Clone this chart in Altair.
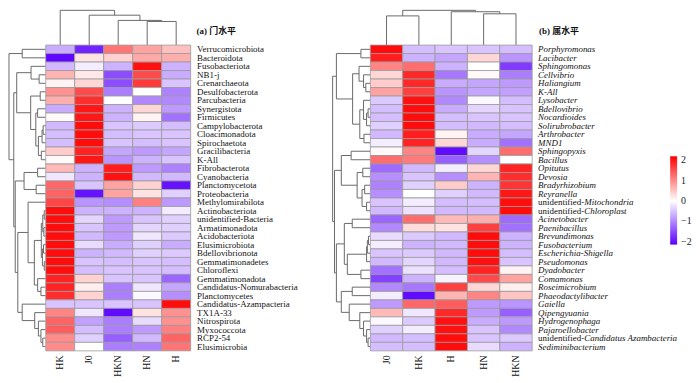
import altair as alt
import pandas as pd

# ---------------- data ----------------
phylum_cols = ["HK", "J0", "HKN", "HN", "H"]
phylum_rows = [
    "Verrucomicrobiota", "Bacteroidota", "Fusobacteriota", "NB1-j", "Crenarchaeota",
    "Desulfobacterota", "Parcubacteria", "Synergistota", "Firmicutes", "Campylobacterota",
    "Cloacimonadota", "Spirochaetota", "Gracilibacteria", "K-All", "Fibrobacterota",
    "Cyanobacteria", "Planctomycetota", "Proteobacteria", "Methylomirabilota", "Actinobacteriota",
    "unidentified-Bacteria", "Armatimonadota", "Acidobacteriota", "Elusimicrobiota", "Bdellovibrionota",
    "Gemmatimonadetes", "Chloroflexi", "Gemmatimonadota", "Candidatus-Nomurabacteria", "Planctomycetes",
    "Candidatus-Azampacteria", "TX1A-33", "Nitrospirota", "Myxococcota", "RCP2-54", "Elusimicrobia",
]
phylum_z = [
    [-0.7, -1.85, 1.2, 0.8, 0.55],
    [-2.1, 0.25, 0.4, 0.75, 0.7],
    [-0.6, -0.15, -0.65, 2.05, -0.65],
    [0.65, 0.2, -1.5, 1.55, -0.7],
    [0.1, 0.35, -1.5, 1.7, -0.5],
    [0.95, 1.55, -1.1, 0.0, -1.05],
    [0.7, 1.8, 0.0, -1.0, -1.0],
    [-0.7, 2.0, -0.65, 0.35, -0.85],
    [0.05, 2.0, -0.65, 0.1, -1.2],
    [-0.6, 2.1, -0.5, -0.45, -0.55],
    [-0.55, 2.1, -0.55, -0.5, -0.5],
    [-0.55, 2.1, -0.5, -0.55, -0.5],
    [0.45, 1.9, -0.75, -0.85, -0.75],
    [0.05, 2.0, -0.9, -0.65, -0.5],
    [0.6, -0.65, 1.95, -0.85, -1.05],
    [-0.2, -0.65, 2.05, -0.6, -0.6],
    [1.3, -0.5, 0.8, 0.4, -2.0],
    [1.35, -2.0, 0.8, 0.25, -0.4],
    [1.6, -0.9, -0.95, 1.1, -0.85],
    [2.1, -0.65, -0.65, -0.65, -0.15],
    [2.1, -0.35, -0.85, -0.5, -0.4],
    [2.1, -0.5, -0.85, -0.35, -0.4],
    [2.1, -0.6, -0.85, -0.2, -0.45],
    [2.1, -0.3, -0.7, -0.4, -0.7],
    [2.1, -0.65, -0.6, -0.4, -0.45],
    [2.1, -0.5, -0.55, -0.5, -0.55],
    [2.1, -0.55, -0.5, -0.5, -0.55],
    [1.9, 0.4, -0.5, -0.5, -1.3],
    [1.9, 0.15, -1.1, -0.2, -0.75],
    [1.8, 0.4, -1.1, -0.05, -0.95],
    [-0.5, -0.5, -0.5, -0.5, 2.1],
    [1.05, -0.2, -2.05, 0.25, 0.95],
    [1.35, -0.8, -1.1, -0.3, 0.95],
    [1.4, -0.55, -1.1, -0.85, 1.1],
    [1.0, -0.4, -1.35, -0.6, 1.35],
    [1.0, 0.0, -1.1, -1.05, 1.2],
]

genus_cols = ["J0", "HK", "H", "HN", "HKN"]
genus_rows = [
    "Porphyromonas", "Lacibacter", "Sphingomonas", "Cellvibrio", "Haliangium",
    "K-All", "Lysobacter", "Bdellovibrio", "Nocardioides", "Solirubrobacter",
    "Arthrobacter", "MND1", "Sphingopyxis", "Bacillus", "Opitutus",
    "Devosia", "Bradyrhizobium", "Reyranella", "unidentified-Mitochondria", "unidentified-Chloroplast",
    "Acinetobacter", "Paenibacillus", "Brevundimonas", "Fusobacterium", "Escherichia-Shigella",
    "Pseudomonas", "Dyadobacter", "Comamonas", "Roseimicrobium", "Phaeodactylibacter",
    "Gaiella", "Qipengyuania", "Hydrogenophaga", "Pajaroellobacter",
    "unidentified-Candidatus Azambacteria", "Sediminibacterium",
]
genus_z = [
    [2.1, -0.55, -0.5, -0.5, -0.55],
    [1.95, -0.65, -0.75, 0.35, -0.9],
    [1.05, 1.25, -0.65, 0.0, -1.65],
    [0.35, 1.85, -1.15, 0.05, -1.1],
    [0.45, 1.85, -0.7, -0.75, -0.85],
    [0.8, 1.65, -0.9, -0.75, -0.8],
    [-0.45, 2.05, -1.0, -0.05, -0.55],
    [-0.55, 2.1, -0.7, -0.35, -0.5],
    [-0.55, 2.1, -0.55, -0.5, -0.5],
    [-0.4, 2.1, -0.55, -0.6, -0.55],
    [-0.6, 1.95, 0.1, -0.7, -0.75],
    [-0.15, 1.9, 0.35, -0.7, -1.2],
    [0.05, 1.05, -2.05, -0.35, 1.25],
    [1.25, 1.15, -1.35, -0.95, 0.0],
    [-1.25, -0.6, -0.15, 0.35, 1.9],
    [-0.95, -0.5, -0.95, 0.65, 1.8],
    [-1.05, -0.4, 0.45, -0.65, 1.75],
    [-0.95, 0.0, -0.4, -0.6, 2.0],
    [-0.5, -0.15, -0.55, -0.55, 2.1],
    [-0.6, -0.25, -0.6, -0.6, 2.1],
    [-1.3, 1.25, 0.6, 0.7, -1.25],
    [-1.0, 0.3, 0.25, 1.65, -1.2],
    [-0.3, -0.45, -0.6, 2.1, -0.65],
    [-0.15, -0.65, -0.6, 2.1, -0.65],
    [-0.5, -0.45, -0.6, 2.1, -0.55],
    [-0.6, -0.35, -0.6, 2.05, -0.5],
    [-1.2, -0.25, -0.55, 1.9, 0.1],
    [-1.6, -0.65, -0.1, 1.55, 0.8],
    [-1.0, -1.15, 1.65, 0.35, 0.15],
    [-0.15, -2.05, 0.65, 1.05, 0.5],
    [-0.85, 1.3, 1.4, -0.85, -0.9],
    [0.6, -0.2, 1.85, -0.85, -1.35],
    [-0.05, -0.45, 2.05, -0.7, -0.85],
    [-0.4, -0.15, 2.05, -0.5, -1.0],
    [-0.6, -0.55, 2.1, -0.5, -0.45],
    [-0.55, -0.55, 2.1, -0.3, -0.65],
]

# dendrograms: (left, right, merge height); integers are leaf positions
phylum_col_tree = (0, (1, (2, (3, 4, 0.68), 0.71), 0.86), 1.0)
genus_col_tree = ((0, 1, 0.84), (2, (3, 4, 0.90), 0.96), 1.0)

phylum_row_tree = (
    (0, 1, 0.64),
    (
        ((2, (3, 4, 0.18), 0.40),
         ((5, 6, 0.15),
          ((7, 8, 0.22), (((9, 10, 0.07), 11, 0.10), (12, 13, 0.12), 0.20), 0.27),
          0.41),
         0.79),
        (((14, 15, 0.22), (16, 17, 0.26), 0.59),
         ((18,
           ((((19, 20, 0.04), (21, 22, 0.05), 0.08), ((23, 24, 0.06), (25, 26, 0.04), 0.09), 0.12),
            (27, (28, 29, 0.13), 0.22), 0.31),
           0.48),
          (30, (31, (32, (33, (34, 35, 0.08), 0.13), 0.20), 0.30), 0.64),
          0.76),
         0.83),
        0.87),
    1.0)

genus_row_tree = (
    ((0, 1, 0.25),
     ((2, (3, (4, 5, 0.12), 0.18), 0.30),
      ((6, ((7, 8, 0.06), 9, 0.10), 0.18), (10, 11, 0.17), 0.28),
      0.47),
     0.90),
    (((12, 13, 0.51),
      ((14, 15, 0.20), ((16, 17, 0.15), (18, 19, 0.10), 0.22), 0.35),
      0.77),
     (((20, 21, 0.48),
       ((((22, 23, 0.05), 24, 0.08), 25, 0.10), (26, 27, 0.25), 0.61),
       0.69),
      ((28, 29, 0.48),
       (30, (31, (32, (33, (34, 35, 0.06), 0.10), 0.18), 0.28), 0.56),
       0.77),
      0.90),
     0.95),
    1.0)

# ---------------- helpers ----------------
def dendro_segments(tree):
    segs = []

    def walk(node):
        if isinstance(node, int):
            return node + 0.5, 0.0
        a, b, h = node
        pa, ha = walk(a)
        pb, hb = walk(b)
        segs.append({"p1": pa, "p2": pa, "h1": ha, "h2": h})
        segs.append({"p1": pb, "p2": pb, "h1": hb, "h2": h})
        segs.append({"p1": pa, "p2": pb, "h1": h, "h2": h})
        return (pa + pb) / 2, h

    walk(tree)
    return pd.DataFrame(segs)


def long_df(rows, cols, z):
    recs = []
    for r, vals in zip(rows, z):
        for c, v in zip(cols, vals):
            recs.append({"row": r, "col": c, "z": v})
    return pd.DataFrame(recs)


SERIF = "Liberation Serif"
TITLE_FONT = "Liberation Serif, Noto Sans CJK SC"
LINE = "#6a6a6a"
CELL_STROKE = "#9a9a9a"
ROW_FS = 9

H_HEAT = 308
H_CD = 35
W_RD_A, W_HA = 37, 146
W_RD_B, W_HB = 38, 163

color_scale = alt.Scale(domain=[-2.15, 0, 2.2], range=["#5a00ff", "#ffffff", "#ff0000"],
                        interpolate="rgb")
legend = alt.Legend(orient="none", legendX=666, legendY=147, direction="vertical",
                    gradientLength=89, gradientThickness=7, title=None,
                    values=[-2, -1, 0, 1, 2], labelFont=SERIF, labelFontSize=10,
                    labelColor="#222", labelOffset=4, gradientStrokeWidth=0)


def row_dendro(tree, n, w):
    return alt.Chart(dendro_segments(tree)).mark_rule(color=LINE, strokeWidth=1).encode(
        x=alt.X("h1:Q", scale=alt.Scale(domain=[0, 1], reverse=True, nice=False, zero=False), axis=None),
        x2="h2:Q",
        y=alt.Y("p1:Q", scale=alt.Scale(domain=[0, n], reverse=True, nice=False, zero=False), axis=None),
        y2="p2:Q",
    ).properties(width=w, height=H_HEAT)


def col_dendro(tree, ncol, w_rd, w_h, title, title_dx):
    cellw = w_h / ncol
    lo = -w_rd / cellw
    lines = alt.Chart(dendro_segments(tree)).mark_rule(color=LINE, strokeWidth=1).encode(
        x=alt.X("p1:Q", scale=alt.Scale(domain=[lo, ncol], nice=False, zero=False), axis=None),
        x2="p2:Q",
        y=alt.Y("h1:Q", scale=alt.Scale(domain=[0, 1], nice=False, zero=False), axis=None),
        y2="h2:Q",
    )
    ttl = alt.Chart(pd.DataFrame({"t": [title]})).mark_text(
        align="left", baseline="middle", font=TITLE_FONT, fontSize=9, fontWeight="bold", color="#111"
    ).encode(x=alt.value(w_rd + w_h + title_dx), y=alt.value(21), text="t:N")
    return alt.layer(lines, ttl).properties(width=w_rd + w_h, height=H_CD)


xaxis = alt.Axis(orient="bottom", labelAngle=270, title=None, ticks=False, domain=False,
                 labelPadding=4, labelFont=SERIF, labelFontSize=10, labelColor="#111")

# ---------------- panel (a) ----------------
dfA = long_df(phylum_rows, phylum_cols, phylum_z)
heatA = alt.Chart(dfA).mark_rect(stroke=CELL_STROKE, strokeWidth=0.8).encode(
    x=alt.X("col:N", sort=phylum_cols, scale=alt.Scale(paddingInner=0, paddingOuter=0), axis=xaxis),
    y=alt.Y("row:N", sort=phylum_rows, scale=alt.Scale(paddingInner=0, paddingOuter=0),
            axis=alt.Axis(orient="right", title=None, ticks=False, domain=False, labelPadding=6,
                          labelFont=SERIF, labelFontSize=ROW_FS, labelColor="#111", labelLimit=300)),
    color=alt.Color("z:Q", scale=color_scale, legend=legend),
).properties(width=W_HA, height=H_HEAT)

panelA = alt.vconcat(
    col_dendro(phylum_col_tree, 5, W_RD_A, W_HA, "(a) 门水平", 6),
    alt.hconcat(row_dendro(phylum_row_tree, len(phylum_rows), W_RD_A), heatA, spacing=0, bounds="flush"),
    spacing=0, bounds="flush",
)

# ---------------- panel (b) ----------------
dfB = long_df(genus_rows, genus_cols, genus_z)
PREFIX = "unidentified-"
lab = pd.DataFrame({"row": genus_rows})
lab["pre"] = [r[:len(PREFIX)] if r.startswith(PREFIX) else "" for r in genus_rows]
lab["rest"] = [r[len(PREFIX):] if r.startswith(PREFIX) else r for r in genus_rows]
PRE_W = 5.166 * ROW_FS

ysB = alt.Y("row:N", sort=genus_rows, scale=alt.Scale(paddingInner=0, paddingOuter=0), axis=None)
cellsB = alt.Chart(dfB).mark_rect(stroke=CELL_STROKE, strokeWidth=0.8).encode(
    x=alt.X("col:N", sort=genus_cols, scale=alt.Scale(paddingInner=0, paddingOuter=0), axis=xaxis),
    y=ysB,
    color=alt.Color("z:Q", scale=color_scale, legend=legend),
)
pre_txt = alt.Chart(lab).mark_text(align="left", baseline="middle", font=SERIF, fontSize=ROW_FS,
                                   color="#111").encode(
    x=alt.value(W_HB + 6), y=ysB, text="pre:N")
rest_txt = alt.Chart(lab).transform_calculate(
    xo=f"datum.pre == '' ? {W_HB + 6} : {W_HB + 6 + PRE_W}"
).mark_text(align="left", baseline="middle", font=SERIF, fontSize=ROW_FS, fontStyle="italic",
            color="#111").encode(
    x=alt.X("xo:Q", scale=None), y=ysB, text="rest:N")
heatB = alt.layer(cellsB, pre_txt, rest_txt).properties(width=W_HB, height=H_HEAT)

panelB = alt.vconcat(
    col_dendro(genus_col_tree, 5, W_RD_B, W_HB, "(b) 属水平", 7),
    alt.hconcat(row_dendro(genus_row_tree, len(genus_rows), W_RD_B), heatB, spacing=0, bounds="flush"),
    spacing=0, bounds="flush",
)

chart = alt.hconcat(panelA, panelB, spacing=34).properties(
    padding=0, background="white"
).configure_view(stroke=None)

chart.save("out.html", embed_options={"renderer": "svg", "actions": False})
